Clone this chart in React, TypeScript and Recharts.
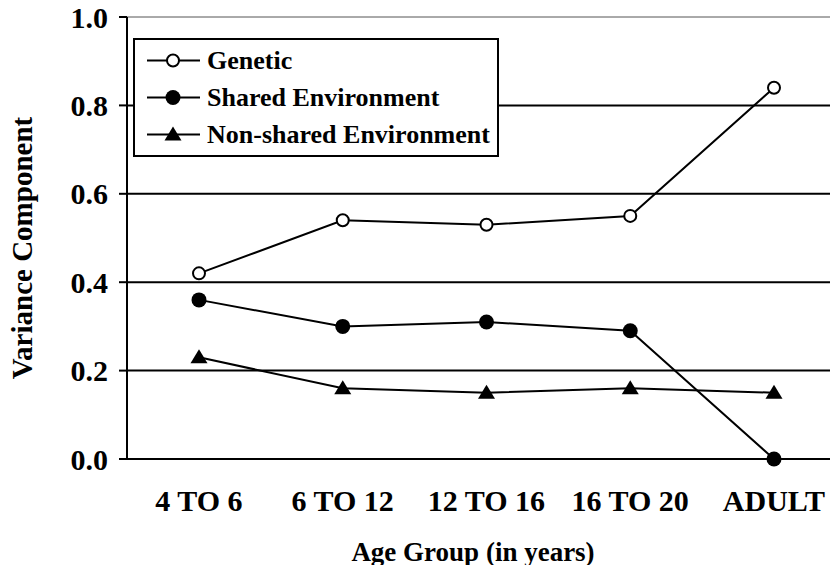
import { LineChart, Line, XAxis, YAxis, ReferenceLine, Legend } from 'recharts';

const ageGroups = ['4 TO 6', '6 TO 12', '12 TO 16', '16 TO 20', 'ADULT'];
const genetic = [0.42, 0.54, 0.53, 0.55, 0.84];
const sharedEnv = [0.36, 0.30, 0.31, 0.29, 0.0];
const nonSharedEnv = [0.23, 0.16, 0.15, 0.16, 0.15];
const yTicks = [0, 0.2, 0.4, 0.6, 0.8, 1.0];
const gridValues = [0.2, 0.4, 0.6, 0.8];

const FONT = "'Liberation Serif', 'Times New Roman', serif";

const chartData = ageGroups.map((g, i) => ({
    group: g,
    genetic: genetic[i],
    shared: sharedEnv[i],
    nonShared: nonSharedEnv[i],
}));

// marker shapes, used for the dots and in the legend
function Marker({ kind, cx, cy }: { kind: string; cx: number; cy: number }) {
    if (kind === 'genetic') {
        return <circle cx={cx} cy={cy} r={6} fill="#fff" stroke="#000" strokeWidth={2} />;
    }
    if (kind === 'shared') {
        return <circle cx={cx} cy={cy} r={7.5} fill="#000" stroke="none" />;
    }
    return <polygon points={`${cx},${cy - 8} ${cx - 8.5},${cy + 6} ${cx + 8.5},${cy + 6}`} fill="#000" />;
}

const makeDot = (kind: string) => (props: any) => (
    <Marker key={`${kind}-${props.index}`} kind={kind} cx={props.cx} cy={props.cy} />
);

const legendItems = [
    { kind: 'genetic', label: 'Genetic' },
    { kind: 'shared', label: 'Shared Environment' },
    { kind: 'nonShared', label: 'Non-shared Environment' },
];

function LegendBox() {
    return (
        <div style={{
            border: '2px solid #000', background: '#fff', width: 366, boxSizing: 'border-box',
            padding: '2px 0 2px 12px', fontFamily: FONT, fontWeight: 'bold', fontSize: 26, color: '#000',
        }}>
            {legendItems.map(item => (
                <div key={item.kind} style={{ height: 37, display: 'flex', alignItems: 'center', whiteSpace: 'nowrap' }}>
                    <svg width={60} height={37} style={{ display: 'block', flexShrink: 0 }}>
                        <line x1={0} x2={53} y1={18.5} y2={18.5} stroke="#000" strokeWidth={2} />
                        <Marker kind={item.kind} cx={26} cy={18.5} />
                    </svg>
                    <span style={{ lineHeight: '37px' }}>{item.label}</span>
                </div>
            ))}
        </div>
    );
}

export default function App() {
    return (
        <div style={{ margin: -8, width: 838, height: 573, overflow: 'hidden', position: 'relative', background: '#fff' }}>
            <LineChart width={846} height={573} data={chartData} margin={{ top: 17, right: 0, bottom: 0, left: 0 }}>
                {gridValues.map(v => (
                    <ReferenceLine key={v} y={v} stroke="#000" strokeWidth={2} />
                ))}
                <ReferenceLine y={1} stroke="#555" strokeWidth={1} />
                <XAxis
                    dataKey="group"
                    height={114}
                    padding={{ left: 72, right: 72 }}
                    axisLine={{ stroke: '#000', strokeWidth: 2 }}
                    tickLine={false}
                    tickSize={0}
                    tickMargin={31}
                    interval={0}
                    tick={{ fill: '#000', fontFamily: FONT, fontWeight: 'bold', fontSize: 30 }}
                    label={{
                        content: () => (
                            <text x={473} y={561} textAnchor="middle" fill="#000"
                                fontFamily={FONT} fontWeight="bold" fontSize={27}>
                                Age Group (in years)
                            </text>
                        ),
                    }}
                />
                <YAxis
                    width={127}
                    domain={[0, 1]}
                    ticks={yTicks}
                    tickFormatter={(v: number) => v.toFixed(1)}
                    axisLine={{ stroke: '#000', strokeWidth: 2 }}
                    tickLine={{ stroke: '#000', strokeWidth: 2 }}
                    tickSize={8}
                    tickMargin={11}
                    tick={{ fill: '#000', fontFamily: FONT, fontWeight: 'bold', fontSize: 30 }}
                    label={{
                        content: () => (
                            <text x={32} y={248} textAnchor="middle" fill="#000" transform="rotate(-90 32 248)"
                                fontFamily={FONT} fontWeight="bold" fontSize={29}>
                                Variance Component
                            </text>
                        ),
                    }}
                />
                <Legend
                    layout="horizontal"
                    verticalAlign="middle"
                    align="center"
                    wrapperStyle={{ left: 133, top: 38, width: 'auto' }}
                    content={() => <LegendBox />}
                />
                <Line type="linear" dataKey="genetic" name="Genetic" stroke="#000" strokeWidth={2}
                    dot={makeDot('genetic')} activeDot={false} isAnimationActive={false} />
                <Line type="linear" dataKey="shared" name="Shared Environment" stroke="#000" strokeWidth={2}
                    dot={makeDot('shared')} activeDot={false} isAnimationActive={false} />
                <Line type="linear" dataKey="nonShared" name="Non-shared Environment" stroke="#000" strokeWidth={2}
                    dot={makeDot('nonShared')} activeDot={false} isAnimationActive={false} />
            </LineChart>
        </div>
    );
}
